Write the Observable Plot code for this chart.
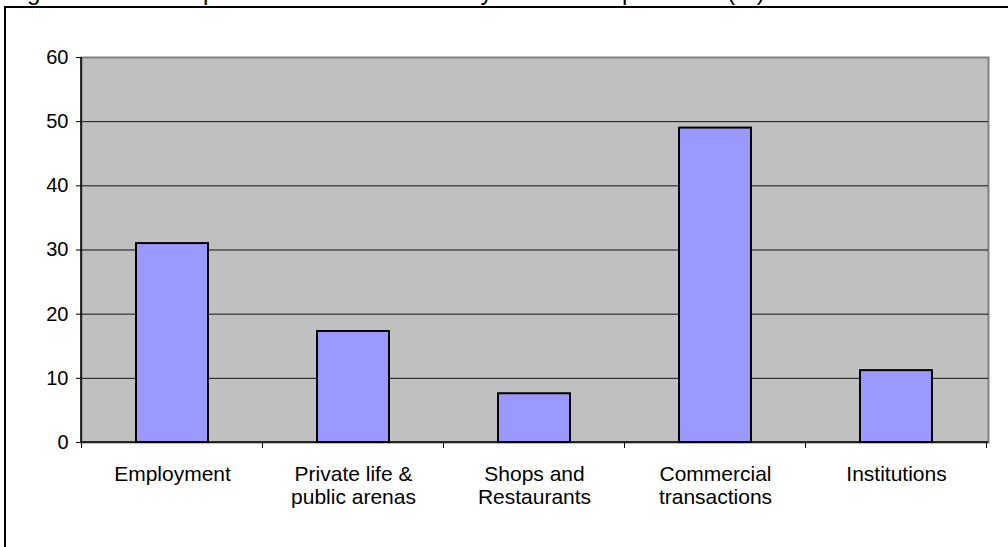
<!DOCTYPE html>
<html><head><meta charset="utf-8">
<script src="https://cdn.jsdelivr.net/npm/d3@7"></script>
<script src="https://cdn.jsdelivr.net/npm/@observablehq/plot@0.6"></script>
<style>
body{margin:0;background:#fff;overflow:hidden;font-family:Arial,"Liberation Sans",sans-serif;}
#title{position:absolute;left:7px;top:-20px;font-size:24px;line-height:24px;white-space:nowrap;color:#000;}
#box{position:absolute;left:4px;top:6px;width:1030px;height:570px;border:2px solid #000;}
#chart{position:absolute;left:0;top:0;}
</style></head><body>
<div id="title">Figure 3: Areas of perceived discrimination by Romani respondents (%)</div>
<div id="box"></div>
<div id="chart"></div>
<script>
const categories = ["Employment", "Private life & public arenas", "Shops and Restaurants", "Commercial transactions", "Institutions"];
const labelLines = [["Employment"], ["Private life &", "public arenas"], ["Shops and", "Restaurants"], ["Commercial", "transactions"], ["Institutions"]];
const values = [31, 17.3, 7.6, 49, 11.2];
const yTicks = [0, 10, 20, 30, 40, 50, 60];

const data = categories.map((c, i) => ({category: c, value: values[i]}));

const chart = Plot.plot({
  width: 1008, height: 547,
  marginLeft: 81, marginRight: 20, marginTop: 57, marginBottom: 105,
  style: {background: "transparent", fontFamily: "Arial, 'Liberation Sans', sans-serif", overflow: "visible", color: "#000"},
  x: {domain: categories, paddingInner: 0.6, paddingOuter: 0.3, label: null},
  y: {domain: [0, 60], ticks: yTicks, label: null},
  marks: [
    Plot.frame({fill: "#c0c0c0", stroke: "#808080", strokeWidth: 2}),
    Plot.gridY(yTicks.filter(t => t > 0 && t < 60), {stroke: "#000", strokeOpacity: 0.9, strokeWidth: 1}),
    Plot.barY(data, {x: "category", y: "value", fill: "#9999ff", stroke: "#000", strokeWidth: 2}),
    Plot.axisY(yTicks, {tickSize: 5, tickPadding: 8, fontSize: 20, color: "#000"}),
    Plot.axisX({tickSize: 0, tickPadding: 22, fontSize: 21, lineHeight: 1.1,
      tickFormat: c => labelLines[categories.indexOf(c)].join("\n")})
  ]
});
document.getElementById("chart").appendChild(chart);

// axis lines and category boundary ticks, from the plot's own scales
const xs = chart.scale("x"), ys = chart.scale("y");
const svg = d3.select(chart);
const y0 = ys.apply(0), yTop = ys.apply(60);
const half = (xs.step - xs.bandwidth) / 2;
const bounds = categories.map(c => xs.apply(c) - half).concat([xs.apply(categories[categories.length - 1]) + xs.bandwidth + half]);
const g = svg.append("g").attr("stroke", "#000");
g.append("line").attr("x1", xs.range[0]).attr("x2", xs.range[0]).attr("y1", yTop).attr("y2", y0 + 0.5).attr("stroke-width", 1.5);
g.append("line").attr("x1", xs.range[0]).attr("x2", xs.range[1]).attr("y1", y0).attr("y2", y0).attr("stroke-width", 1.5);
g.selectAll(".bt").data(bounds).join("line").attr("x1", d => d).attr("x2", d => d).attr("y1", y0).attr("y2", y0 + 6).attr("stroke-width", 1);
</script>
</body></html>
